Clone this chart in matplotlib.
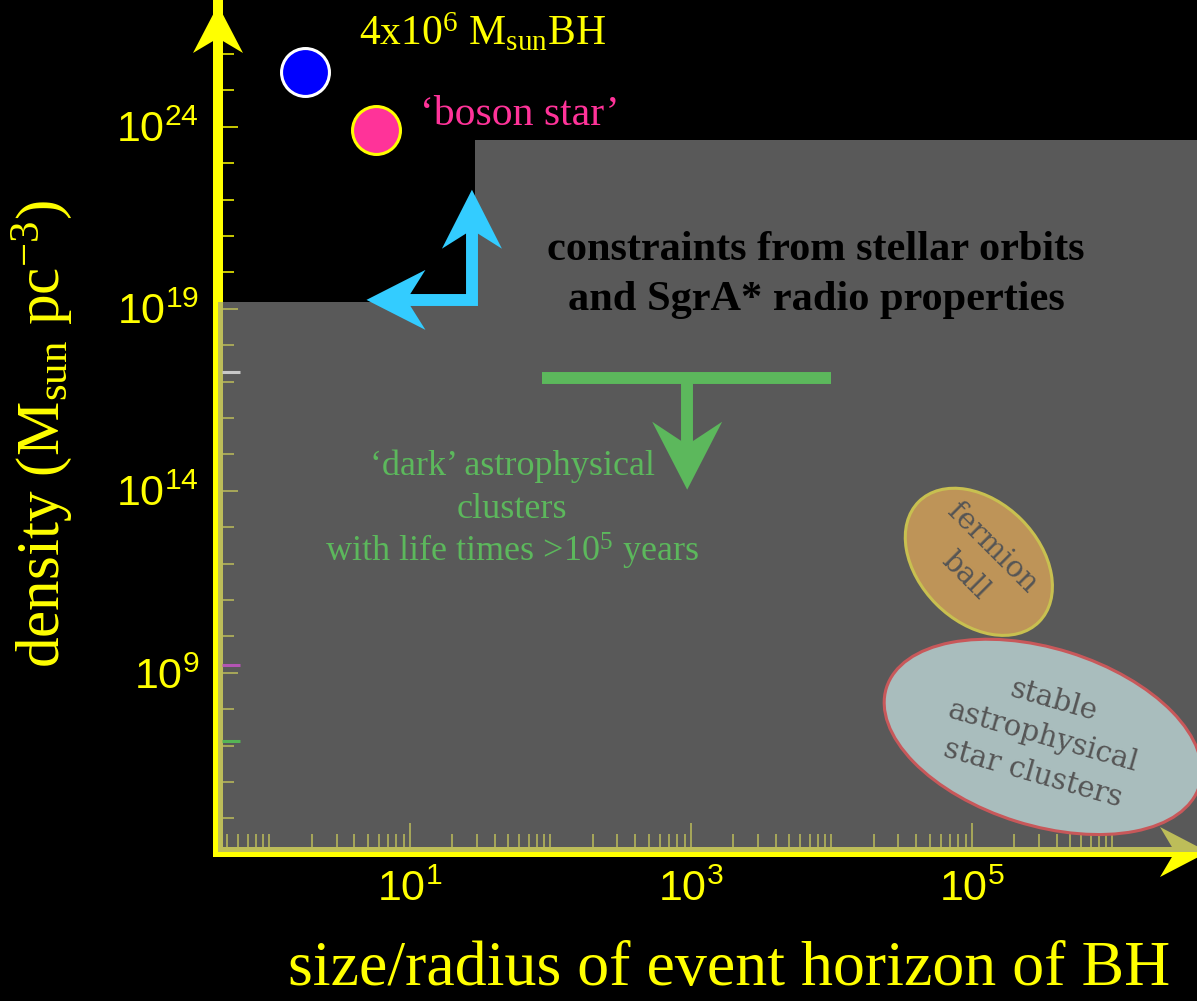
#!/usr/bin/env python3
"""Density vs size of the Galactic-centre dark mass: BH, boson star and the
regions ruled out by stellar orbits and by cluster lifetimes."""
import numpy as np
import matplotlib
matplotlib.use("Agg")
import matplotlib.pyplot as plt
from matplotlib.lines import Line2D
from matplotlib.patches import Ellipse, Polygon
from matplotlib.transforms import IdentityTransform, ScaledTranslation
from matplotlib.ticker import FixedLocator, FixedFormatter, NullFormatter

# axis ranges: size in units of the horizon, density in Msun pc^-3
x_range = [0.43, 4.0e6]
y_range = [1.2e4, 2.2e27]
xtick_exp = [1, 3, 5]
ytick_exp = [9, 14, 19, 24]

# region excluded by stellar orbits + SgrA* radio properties (step outline)
excl_x = [0.43, 29.0, 4.0e6]
excl_y = [1.55e19, 4.4e23, 4.4e23]

# point objects
bh_xy = (1.8, 3.2e25)
boson_xy = (5.7, 8.3e23)

# corner of the allowed region and the two arrow tips (cyan)
corner_xy = (27.6, 1.75e19)
corner_up_y = 1.86e22
corner_left_x = 4.9

# cluster-lifetime upper limit (green T)
life_bar_x = [87.0, 1.0e4]
life_bar_y = 1.26e17
life_arrow_x = 940.0
life_arrow_tip_y = 1.07e14

# extended regions
fermion_xy = (1.12e5, 1.12e12)
cluster_xy = (3.2e5, 1.74e7)

# coloured marks sitting on the density axis
axis_mark_y = [1.86e17, 1.66e9, 1.35e7]
axis_mark_col = ["#c8c8c8", "#b455b4", "#55b455"]

YEL = "#ffff00"
CYAN = "#33ccff"
GREEN = "#5cb85c"
PINK = "#ff3399"
SERIF = ["Liberation Serif", "DejaVu Serif"]

plt.rcParams["font.family"] = ["Liberation Sans", "DejaVu Sans"]
plt.rcParams["mathtext.fontset"] = "custom"
plt.rcParams["mathtext.rm"] = "Liberation Serif"
plt.rcParams["mathtext.it"] = "Liberation Serif:italic"
plt.rcParams["mathtext.bf"] = "Liberation Serif:bold"

W, H = 1197, 1001


def fxy(x, y):
    return x / W, 1 - y / H


def head(tip, d, length, width, notch):
    # stealth arrow head in pixel coords
    d = np.asarray(d, float)
    d = d / np.hypot(*d)
    n = np.array([-d[1], d[0]])
    tip = np.asarray(tip, float)
    back = tip - d * length
    return np.array([tip, back + n * width / 2, tip - d * length * notch,
                     back - n * width / 2])


def main():
    fig = plt.figure(figsize=(W / 100, H / 100), dpi=100, facecolor="black")
    ax = fig.add_axes([218 / W, 149 / H, 979 / W, 847 / H])
    ax.set_facecolor("black")
    ax.set_xscale("log"); ax.set_yscale("log")
    ax.set_xlim(x_range); ax.set_ylim(y_range)
    for s in ("top", "right"):
        ax.spines[s].set_visible(False)
    for s in ("left", "bottom"):
        ax.spines[s].set_color(YEL)
        ax.spines[s].set_linewidth(7.2)
    ax.set_axisbelow(True)

    xmaj = [10.0 ** e for e in xtick_exp]
    xmin = [k * 10.0 ** n for n in range(-1, 7) for k in range(1, 10)]
    xmin = [v for v in xmin if 0.5 <= v <= 1.001e6 and v not in xmaj]
    ymaj = [10.0 ** e for e in ytick_exp]
    ymin = [10.0 ** n for n in range(5, 27) if n not in ytick_exp]
    ax.xaxis.set_major_locator(FixedLocator(xmaj))
    ax.xaxis.set_minor_locator(FixedLocator(xmin))
    ax.yaxis.set_major_locator(FixedLocator(ymaj))
    ax.yaxis.set_minor_locator(FixedLocator(ymin))
    ax.xaxis.set_major_formatter(FixedFormatter(
        [rf"$\mathdefault{{10^{{{e}}}}}$" for e in xtick_exp]))
    ax.yaxis.set_major_formatter(FixedFormatter(
        [rf"$\mathdefault{{10^{{{e}}}}}$" for e in ytick_exp]))
    ax.xaxis.set_minor_formatter(NullFormatter())
    ax.yaxis.set_minor_formatter(NullFormatter())
    ax.tick_params(which="both", direction="in", colors=YEL, width=1.1)
    ax.tick_params(axis="x", which="major", length=21, pad=13, labelsize=31)
    ax.tick_params(axis="x", which="minor", length=13)
    ax.tick_params(axis="y", which="major", length=14.4, pad=13.5, labelsize=31)
    ax.tick_params(axis="y", which="minor", length=11.5)

    # excluded region, semi-transparent so the axes show through as khaki
    ax.fill_between(excl_x, y_range[0], excl_y, step="post",
                    color="#939393", alpha=0.61, lw=0, zorder=3)

    px = IdentityTransform()
    # axis arrow heads
    y_tip = ax.transAxes.transform((0, 1))
    x_tip = ax.transAxes.transform((0, 0)) + np.array([990, 0])
    for tip, d in [(y_tip, (0, 1)), (x_tip, (1, 0))]:
        ax.add_patch(Polygon(head(tip, d, 48, 50, 0.69), closed=True, fc=YEL,
                             lw=0, transform=px, clip_on=False, zorder=2.6))

    ax.hlines(axis_mark_y, 0.004, 0.0225, colors=axis_mark_col, lw=2.2,
              transform=ax.get_yaxis_transform(), zorder=4)

    # objects
    ax.plot(*bh_xy, "o", ms=34.5, mfc="#0000ff", mec="white", mew=2.2, zorder=6)
    ax.plot(*boson_xy, "o", ms=34.5, mfc=PINK, mec=YEL, mew=2.2, zorder=6)

    # cyan L arrow from the constraint corner
    c = ax.transData.transform(corner_xy)
    up = ax.transData.transform((corner_xy[0], corner_up_y))
    left = ax.transData.transform((corner_left_x, corner_xy[1]))
    hu = head(up, up - c, 59, 60, 0.68)
    hl = head(left, left - c, 59, 60, 0.68)
    stem_u = up - (up - c) / np.hypot(*(up - c)) * 30
    stem_l = left - (left - c) / np.hypot(*(left - c)) * 30
    path = np.array([stem_l, c, stem_u])
    ax.add_line(Line2D(path[:, 0], path[:, 1], transform=px, color=CYAN, lw=8.6,
                       solid_joinstyle="miter", solid_capstyle="butt", zorder=6))
    for h in (hu, hl):
        ax.add_patch(Polygon(h, closed=True, fc=CYAN, lw=0, transform=px, zorder=6))

    # green T: lifetime limit
    b0 = ax.transData.transform((life_bar_x[0], life_bar_y))
    b1 = ax.transData.transform((life_bar_x[1], life_bar_y))
    s0 = ax.transData.transform((life_arrow_x, life_bar_y))
    tip = ax.transData.transform((life_arrow_x, life_arrow_tip_y))
    hg = head(tip, tip - s0, 68, 70, 0.66)
    s1 = tip - (tip - s0) / np.hypot(*(tip - s0)) * 35
    ax.add_line(Line2D([b0[0], b1[0]], [b0[1], b1[1]], transform=px, color=GREEN,
                       lw=8.6, solid_capstyle="butt", zorder=6))
    ax.add_line(Line2D([s0[0], s1[0]], [s0[1], s1[1]], transform=px, color=GREEN,
                       lw=8.6, solid_capstyle="butt", zorder=6))
    ax.add_patch(Polygon(hg, closed=True, fc=GREEN, lw=0, transform=px, zorder=6))

    # extended regions (size in inches around a data position)
    def at(xy):
        return fig.dpi_scale_trans + ScaledTranslation(xy[0], xy[1], ax.transData)
    ax.add_patch(Ellipse((0, 0), 1.70, 1.20, angle=-45, transform=at(fermion_xy),
                         fc="#be9458", ec="#c8c050", lw=2.2, zorder=4))
    ax.add_patch(Ellipse((0, 0), 3.28, 1.77, angle=-17.4, transform=at(cluster_xy),
                         fc="#a9bdbd", ec="#c8585a", lw=2.2, zorder=4))
    ax.text(*fermion_xy, "fermion\nball", rotation=-45, rotation_mode="anchor",
            ha="center", va="center", family=["DejaVu Serif"], size=21,
            color="#555555", linespacing=1.5, zorder=5)
    ax.text(*cluster_xy, "stable\nastrophysical\nstar clusters", rotation=-16,
            rotation_mode="anchor", ha="center", va="center",
            family=["DejaVu Serif"], size=21, color="#555555",
            linespacing=1.45, zorder=5)

    # labels
    fig.text(*fxy(482, 45), r"4x10$^{6}$ $\mathrm{M_{sun}}$BH", ha="center",
             va="baseline", family=SERIF, size=30, color=YEL)
    fig.text(*fxy(420, 125), "\u2018boson star\u2019", ha="left",
             va="baseline", family=SERIF, size=30, color=PINK)
    for txt, yb in [("constraints from stellar orbits", 260),
                    ("and SgrA* radio properties", 310)]:
        fig.text(*fxy(816, yb), txt, ha="center", va="baseline", family=SERIF,
                 size=30.5, weight="bold", color="black")
    for txt, yb in [("\u2018dark\u2019 astrophysical", 475), ("clusters", 518),
                    (r"with life times >10$^{5}$ years", 562)]:
        fig.text(*fxy(512, yb), txt, ha="center", va="baseline", family=SERIF,
                 size=26, color=GREEN)
    fig.text(*fxy(42, 434), r"density ($\mathrm{M_{sun}}$ pc$^{-3}$)",
             rotation=90, ha="center", va="center", family=SERIF, size=44,
             color=YEL)
    fig.text(*fxy(729, 985), "size/radius of event horizon of BH", ha="center",
             va="baseline", family=SERIF, size=46, color=YEL)

    fig.savefig("out.png", dpi=100, facecolor="black")


if __name__ == "__main__":
    main()
